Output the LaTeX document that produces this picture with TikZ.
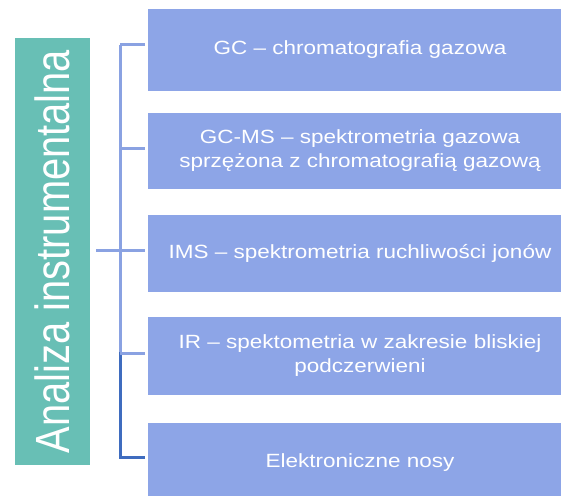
\documentclass[tikz,border=0pt]{standalone}
\usepackage{fontspec}
\setmainfont{Liberation Sans}
\usepackage{graphicx}
\definecolor{boxblue}{HTML}{8DA5E7}
\definecolor{tealc}{HTML}{68BFB5}
\definecolor{linelight}{HTML}{8AA2E2}
\definecolor{linedark}{HTML}{3F6CBF}
\newcommand{\sqtext}[1]{\scalebox{1}[0.85]{\begin{tabular}{@{}c@{}}#1\end{tabular}}}
\tikzset{
  itembox/.style={fill=boxblue, draw=none, minimum width=424pt, inner sep=0pt,
    text=white, font=\fontsize{22.5}{28}\selectfont},
  mainbox/.style={fill=tealc, draw=none, rotate=90, minimum width=427pt,
    minimum height=75pt, inner sep=0pt, text=white, font=\fontsize{48}{56}\selectfont},
  brl/.style={draw=linelight, line width=3pt},
  brd/.style={draw=linedark, line width=3pt},
}
\begin{document}
\begin{tikzpicture}[x=1pt,y=-1pt]
\useasboundingbox (0,0) rectangle (561,495);
\fill[white] (0,0) rectangle (561,495);
\clip (0,0) rectangle (561,495);
\node[mainbox] (main) at (52.5,251.5) {\scalebox{0.83}[1]{Analiza instrumentalna}};
\node[itembox, minimum height=82pt] (b1) at (360,50) {\sqtext{GC – chromatografia gazowa}};
\node[itembox, minimum height=76pt] (b2) at (360,150.5) {\sqtext{GC-MS – spektrometria gazowa\\sprzężona z chromatografią gazową}};
\node[itembox, minimum height=77pt] (b3) at (360,253.5) {\sqtext{IMS – spektrometria ruchliwości jonów}};
\node[itembox, minimum height=78pt] (b4) at (360,356) {\sqtext{IR – spektometria w zakresie bliskiej\\podczerwieni}};
\node[itembox, minimum height=80pt] (b5) at (360,463) {\sqtext{Elektroniczne nosy}};
% bracket spine
\coordinate (s1) at (120,45);
\coordinate (s2) at (120,148);
\coordinate (s3) at (120,250);
\coordinate (s4) at (120,353);
\coordinate (s5) at (120,457);
\coordinate (m) at (96,250);
\draw[brl] (s1) -- (s4);
\draw[brd, line cap=rect] (s4) -- (s5);
\draw[brl] (s1) -- ([xshift=-3pt]b1.west |- s1);
\draw[brl] (s2) -- ([xshift=-3pt]b2.west |- s2);
\draw[brl] (m) -- ([xshift=-3pt]b3.west |- s3);
\draw[brl] (s4) -- ([xshift=-3pt]b4.west |- s4);
\draw[brd] (s5) -- ([xshift=-3pt]b5.west |- s5);
\end{tikzpicture}
\end{document}
